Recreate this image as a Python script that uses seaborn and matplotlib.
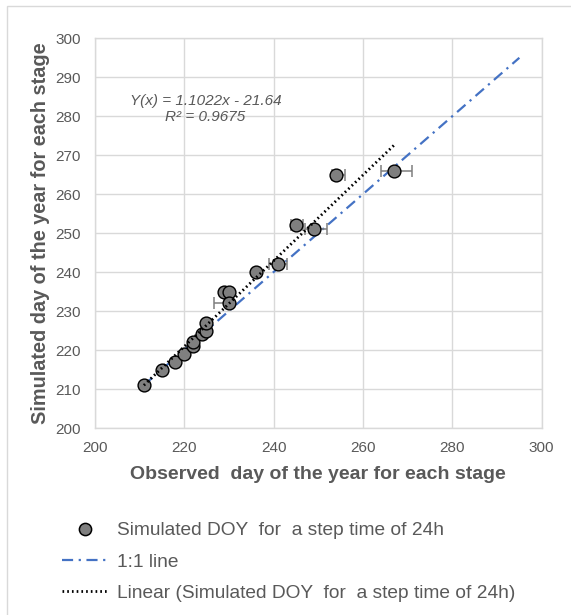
import numpy as np
import pandas as pd
import matplotlib
matplotlib.use("Agg")
import matplotlib.pyplot as plt
import matplotlib.patches as mpatches
from matplotlib.lines import Line2D
import seaborn as sns

# ---- data ----
observed = [211, 215, 218, 220, 222, 222, 224, 225, 225, 229, 230, 230, 236, 241, 245, 249, 254, 267]
simulated = [211, 215, 217, 219, 221, 222, 224, 225, 227, 235, 235, 232, 240, 242, 252, 251, 265, 266]
xerr_minus = [0, 0, 0, 0, 0, 0, 0, 0, 0, 0, 0, 3.3, 0, 2.0, 1.0, 2.0, 1.0, 3.0]
xerr_plus = [0, 0, 0, 0, 0, 0, 0, 0, 0, 0, 0, 1.0, 0, 2.0, 1.7, 3.0, 2.0, 4.0]
one_to_one_x = [211, 295]
one_to_one_y = [211, 295]
equation_text = "Y(x) = 1.1022x - 21.64\nR² = 0.9675"
x_ticks = [200, 220, 240, 260, 280, 300]
y_ticks = [200, 210, 220, 230, 240, 250, 260, 270, 280, 290, 300]
label_scatter = "Simulated DOY  for  a step time of 24h"
label_11 = "1:1 line"
label_linear = "Linear (Simulated DOY  for  a step time of 24h)"
x_label = "Observed  day of the year for each stage"
y_label = "Simulated day of the year for each stage"

df = pd.DataFrame({"observed": observed, "simulated": simulated})
line_df = pd.DataFrame({"x": one_to_one_x, "y": one_to_one_y})

sns.set_theme(style="white")
plt.rcParams["font.family"] = ["Liberation Sans", "DejaVu Sans"]

TXT = "#595959"
GRID = "#D9D9D9"
W, H = 571, 615
fig = plt.figure(figsize=(W / 100, H / 100), dpi=100)
ax = fig.add_axes([94.7 / W, 1 - 428 / H, (541.7 - 94.7) / W, (428 - 38.3) / H])

# 1:1 line
sns.lineplot(data=line_df, x="x", y="y", ax=ax, color="#4472C4", lw=1.6,
             dashes=False, zorder=2, legend=False)
ax.lines[-1].set_dashes((5, 2.5, 1, 2.5))

# error bars
ax.errorbar(observed, simulated, xerr=[xerr_minus, xerr_plus], fmt="none",
            ecolor="#7F7F7F", elinewidth=1.1, capsize=4.5, capthick=1.1, zorder=3)

# points
sns.scatterplot(data=df, x="observed", y="simulated", ax=ax, s=85,
                color="#7F7F7F", edgecolor="black", linewidth=1.0, zorder=4, legend=False)

# linear trend
sns.regplot(data=df, x="observed", y="simulated", ax=ax, scatter=False, ci=None,
            truncate=True, line_kws=dict(color="black", lw=2.0, ls=(0, (0.6, 1.1)), zorder=5))

ax.text(224.8, 281.8, equation_text, ha="center", va="center", multialignment="center",
        fontsize=11, style="italic", color=TXT, linespacing=1.2)

ax.set_xlim(200, 300)
ax.set_ylim(200, 300)
ax.set_xticks(x_ticks)
ax.set_yticks(y_ticks)
ax.grid(True, color=GRID, lw=1.0)
ax.set_axisbelow(True)
for s in ax.spines.values():
    s.set_color(GRID)
    s.set_linewidth(1.0)
ax.tick_params(axis="both", length=0, labelsize=11, labelcolor=TXT)
ax.tick_params(axis="x", pad=9)
ax.tick_params(axis="y", pad=10)
ax.set_xlabel(x_label, fontsize=14, fontweight="bold", color=TXT, labelpad=8)
ax.set_ylabel(y_label, fontsize=14.3, fontweight="bold", color=TXT, labelpad=4)

handles = [
    Line2D([], [], ls="none", marker="o", markersize=8.8, markerfacecolor="#7F7F7F",
           markeredgecolor="black", markeredgewidth=1.1),
    Line2D([], [], color="#4472C4", lw=1.6, dashes=(5, 2.5, 1, 2.5)),
    Line2D([], [], color="black", lw=2.0, ls=(0, (0.6, 1.1))),
]
fig.legend(handles, [label_scatter, label_11, label_linear], loc="upper left",
           bbox_to_anchor=(61.7 / W, 1 - 522 / H), frameon=False, fontsize=13.8,
           handlelength=2.4, handletextpad=0.5, labelspacing=0.72, borderpad=0,
           borderaxespad=0, labelcolor=TXT)

fig.patches.append(mpatches.Rectangle((7 / W, -0.05), 1.2, 1.05 - 6 / H,
                                      transform=fig.transFigure, fill=False,
                                      edgecolor=GRID, lw=1.0))

fig.savefig("out.png", dpi=100)
